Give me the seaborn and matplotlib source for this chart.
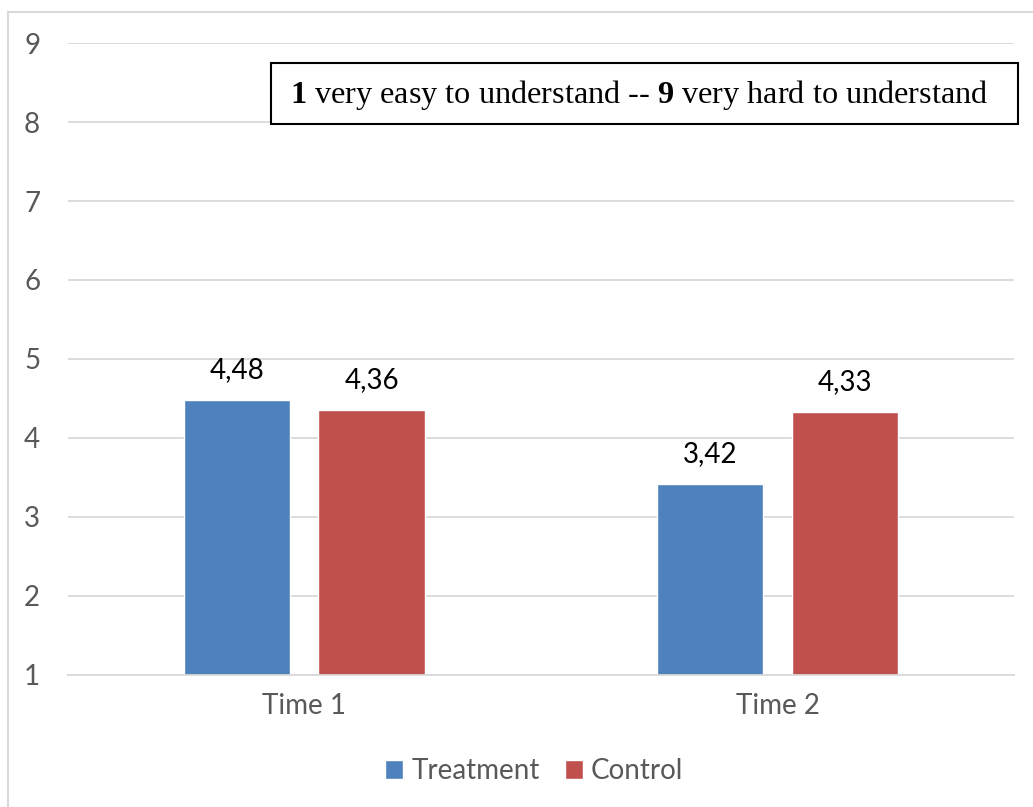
import matplotlib
matplotlib.use("Agg")
from matplotlib import pyplot as plt
from matplotlib.patches import Rectangle
import seaborn as sns
import pandas as pd

# data
times = ["Time 1", "Time 2"]
groups = ["Treatment", "Control"]
treatment = [4.48, 3.42]
control = [4.36, 4.33]
colors = ["#4F81BD", "#C0504D"]

df = pd.DataFrame({
    "time": times * 2,
    "group": [groups[0]] * 2 + [groups[1]] * 2,
    "score": treatment + control,
})

sns.set_theme(style="whitegrid")
plt.rcParams['font.family'] = ['Lato', 'DejaVu Sans']
plt.rcParams['mathtext.fontset'] = 'custom'
plt.rcParams['mathtext.rm'] = 'Liberation Serif'
plt.rcParams['mathtext.bf'] = 'Liberation Serif:bold'

fig = plt.figure(figsize=(10.33, 8.07), dpi=100)
ax = fig.add_axes([0.0658, 0.1636, 0.9158, 0.7831])

sns.barplot(data=df, x="time", y="score", hue="group", palette=colors,
            width=0.567, gap=0.209, saturation=1, ax=ax)

ax.set_ylim(1, 9)
ax.set_yticks(range(1, 10))
ax.set_xlabel("")
ax.set_ylabel("")
ax.grid(axis='y', color='#D9D9D9', linewidth=1.3)
ax.grid(axis='x', visible=False)
for s in ['top', 'right', 'left']:
    ax.spines[s].set_visible(False)
ax.spines['bottom'].set_color('#D9D9D9')
ax.spines['bottom'].set_linewidth(1.3)
ax.tick_params(axis='y', length=0, pad=20, labelsize=20, labelcolor='#595959')
ax.tick_params(axis='x', length=0, pad=13, labelsize=20, labelcolor='#595959')

# data labels
for cont in ax.containers:
    vals = [b.get_height() for b in cont]
    ax.bar_label(cont, labels=[f"{v:.2f}".replace('.', ',') for v in vals],
                 padding=12, fontsize=20, color='black')

# legend at bottom
handles, labels = ax.get_legend_handles_labels()
ax.get_legend().remove()
fig.legend(handles, labels, loc='center', bbox_to_anchor=(0.517, 0.0446), ncol=2,
           frameon=False, fontsize=20, labelcolor='#595959',
           handlelength=0.65, handleheight=0.65, handletextpad=0.3, columnspacing=0.9)

# scale note box
fig.patches.append(Rectangle((271 / 1033, 1 - 124 / 807), (1018 - 271) / 1033, 61 / 807,
                             transform=fig.transFigure, fill=True, facecolor='white',
                             edgecolor='black', linewidth=1.5, zorder=5))
fig.text(290 / 1033, 1 - 95 / 807,
         r"$\mathbf{1}$ very easy to understand -- $\mathbf{9}$ very hard to understand",
         family=['Liberation Serif'], fontsize=23.2, color='black', va='center', ha='left', zorder=6)

# outer chart border
fig.patches.append(Rectangle((8 / 1033, -0.1), 1.2, 1 - 12 / 807 + 0.1,
                             transform=fig.transFigure, fill=False,
                             edgecolor='#D9D9D9', linewidth=1.5))

fig.savefig("out.png", dpi=100)
